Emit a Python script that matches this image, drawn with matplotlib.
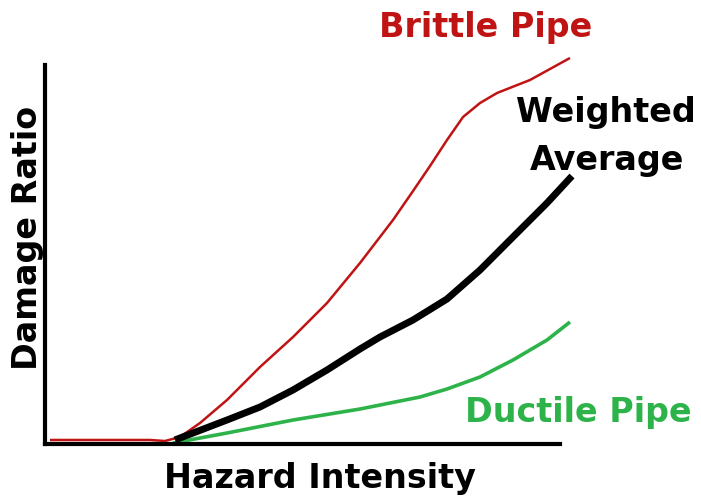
import matplotlib.pyplot as plt

# Hazard intensity / damage ratio (arbitrary 0-100 units)
brittle_x = [0.97, 10.68, 20.39, 23.30, 26.21, 30.10, 35.34, 41.75, 48.16, 54.76, 61.17,
             67.57, 71.46, 74.76, 78.06, 81.17, 84.47, 87.77, 94.17, 101.94]
brittle_y = [1.06, 1.06, 1.06, 0.79, 1.85, 5.54, 11.61, 20.32, 28.23, 37.20, 47.76,
             59.10, 66.75, 73.35, 80.21, 86.28, 89.97, 92.61, 96.04, 101.85]

weighted_x = [25.24, 26.21, 35.34, 41.75, 48.16, 54.76, 61.17, 65.05, 71.46, 78.06, 84.47,
              90.87, 97.48, 102.33]
weighted_y = [1.06, 1.58, 6.33, 9.76, 14.25, 19.53, 25.07, 28.23, 32.72, 38.26, 45.91,
              54.62, 63.59, 70.71]

ductile_x = [24.85, 35.34, 48.16, 61.17, 72.82, 78.06, 84.47, 90.87, 97.48, 101.94]
ductile_y = [0.26, 2.90, 6.33, 9.23, 12.40, 14.51, 17.68, 22.16, 27.44, 32.19]

red = '#c01414'
green = '#2db34a'

W, H = 701, 498
fig = plt.figure(figsize=(W / 100, H / 100), dpi=100)
ax = fig.add_axes([45 / W, 54 / H, 515 / W, 379 / H])

ax.plot(brittle_x, brittle_y, color=red, lw=1.8, clip_on=False, solid_capstyle='butt')
ax.plot(ductile_x, ductile_y, color=green, lw=2.6, clip_on=False, solid_capstyle='butt')
ax.plot(weighted_x, weighted_y, color='black', lw=5, clip_on=False, solid_capstyle='butt',
        solid_joinstyle='round')

ax.set_xlim(0, 100)
ax.set_ylim(0, 100)
ax.set_xticks([])
ax.set_yticks([])
ax.spines['top'].set_visible(False)
ax.spines['right'].set_visible(False)
ax.spines['left'].set_linewidth(3)
ax.spines['bottom'].set_linewidth(3)

font = dict(family='DejaVu Sans', fontweight='bold', fontsize=24)


def label(px, py, s, color='black', **kw):
    # px, py: pixel position (center x, baseline y) measured from the top-left
    fig.text(px / W, 1 - py / H, s, color=color, ha='center', va='baseline', **font, **kw)


label(486, 37, 'Brittle Pipe', red)
label(606, 122, 'Weighted')
label(607, 170, 'Average')
label(578, 422, 'Ductile Pipe', green)
label(37, 238, 'Damage Ratio', rotation=90, rotation_mode='anchor')
label(320, 488, 'Hazard Intensity')

fig.savefig('out.png', dpi=100)
